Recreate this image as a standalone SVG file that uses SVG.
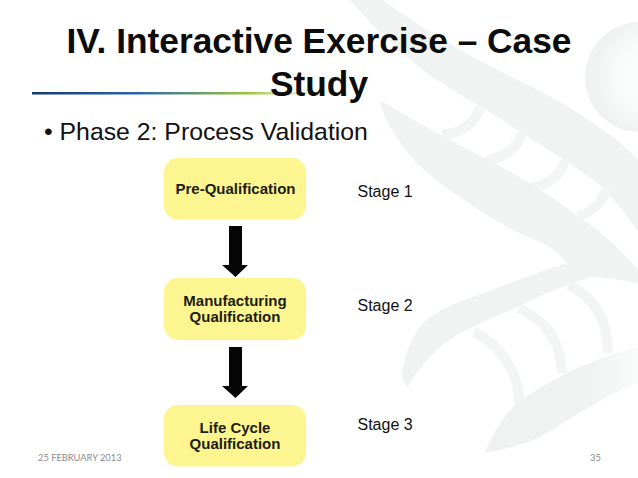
<svg xmlns="http://www.w3.org/2000/svg" width="638" height="478" viewBox="0 0 638 478">
<style>
.bg{fill:#f1f3f3}
.rung{fill:none;stroke:#f3f5f5;stroke-width:10}
.box{fill:#fdf690}
.lbl{font-family:"Liberation Sans",Arial,sans-serif;font-weight:700;font-size:15px;fill:#1c1c14;text-anchor:middle}
.stage{font-family:"Liberation Sans",Arial,sans-serif;font-size:16px;fill:#111}
.title{font-family:"Liberation Sans",Arial,sans-serif;font-weight:700;font-size:35.300px;fill:#0c0c0c;text-anchor:middle}
.foot{font-family:Lato,"Open Sans",sans-serif;font-size:9.300px;fill:#8c8c8c}
.arrow{fill:#050505}
</style>
<defs>
<linearGradient id="rule" x1="0" x2="1" y1="0" y2="0">
<stop offset="0" stop-color="#12386f"/><stop offset="0.35" stop-color="#2a66a8"/><stop offset="0.72" stop-color="#9ac63c"/><stop offset="1" stop-color="#d8e8b0" stop-opacity="0.2"/>
</linearGradient>
<radialGradient id="ball" cx="0.62" cy="0.5" r="0.55">
<stop offset="0" stop-color="#ffffff"/><stop offset="0.6" stop-color="#f9fafa"/><stop offset="1" stop-color="#f0f2f2"/>
</radialGradient>
<linearGradient id="fade" x1="0" x2="1" y1="0" y2="0">
<stop offset="0" stop-color="#eff1f1"/><stop offset="0.7" stop-color="#f1f3f3"/><stop offset="1" stop-color="#fafbfb"/>
</linearGradient>
</defs>
<rect width="638" height="478" fill="#fff"/>
<g id="background">
<circle cx="640" cy="77" r="55" fill="url(#ball)"/>
<path class="bg" d="M350 0H383C410 20 445 42 473 57C510 77 545 92 573 110C600 127 622 142 638 160V232C625 212 612 197 600 185C570 162 540 145 507 123C470 100 435 82 407 57C385 38 365 18 350 0Z"/>
<path class="rung" d="M442 134C462 134 476 122 480 107"/>
<path class="rung" d="M486 160C504 158 518 148 522 133"/>
<path class="rung" d="M532 188C550 184 562 174 565 160"/>
<path class="rung" d="M578 216C594 212 604 200 607 187"/>
<path class="rung" d="M474 332C498 344 517 366 520 405"/>
<path class="rung" d="M519 308C545 320 561 340 562 373"/>
<path class="rung" d="M569 285C592 296 608 318 608 353"/>
<path class="bg" d="M380 100C400 112 420 124 440 135C465 148 485 158 507 170C540 188 570 210 600 232C615 245 628 258 638 270V284C625 280 608 278 590 277C570 284 548 292 527 302C508 312 490 318 473 327C460 333 450 338 440 347C428 358 416 372 407 388C402 380 401 373 403 367C407 348 413 335 423 323C437 310 455 303 473 297C505 285 535 273 567 263C555 250 545 243 535 240C505 228 470 205 440 183C420 168 405 152 392 130C386 120 382 110 380 100Z"/>
<path fill="url(#fade)" d="M485 453C492 435 502 418 513 407C530 393 552 380 573 370C595 360 617 352 638 347V383C605 395 570 420 540 437C522 445 503 450 485 453Z"/>
</g>
<g id="title">
<text class="title" x="319" y="53">IV. Interactive Exercise – Case</text>
<rect x="32" y="92" width="300" height="2.500" fill="url(#rule)"/>
<text class="title" x="319" y="96">Study</text>
</g>
<text id="bullet" x="44" y="140" font-family="Liberation Sans, Arial, sans-serif" font-size="24.800" fill="#111">• Phase 2: Process Validation</text>
<g id="connectors">
<polygon class="arrow" points="229,226 242,226 242,265 248,265 235.500,277 222,265 229,265"/>
<polygon class="arrow" points="229,347 242,347 242,386 248,386 235.500,398 222,386 229,386"/>
</g>
<g id="pre-qualification">
<rect class="box" x="164" y="158" width="142" height="61.500" rx="14"/>
<text class="lbl" x="235.500" y="194">Pre-Qualification</text>
</g>
<g id="manufacturing-qualification">
<rect class="box" x="164" y="278" width="142" height="62" rx="14"/>
<text class="lbl" x="235" y="306">Manufacturing</text>
<text class="lbl" x="235" y="322">Qualification</text>
</g>
<g id="life-cycle-qualification">
<rect class="box" x="164" y="405" width="142" height="61.500" rx="14"/>
<text class="lbl" x="235" y="433">Life Cycle</text>
<text class="lbl" x="235" y="449">Qualification</text>
</g>
<g id="stages">
<text class="stage" x="357.500" y="197">Stage 1</text>
<text class="stage" x="357.500" y="311">Stage 2</text>
<text class="stage" x="357.500" y="430">Stage 3</text>
</g>
<g id="footer">
<text class="foot" x="38" y="461">25 FEBRUARY 2013</text>
<text class="foot" x="590" y="461">35</text>
</g>
</svg>
